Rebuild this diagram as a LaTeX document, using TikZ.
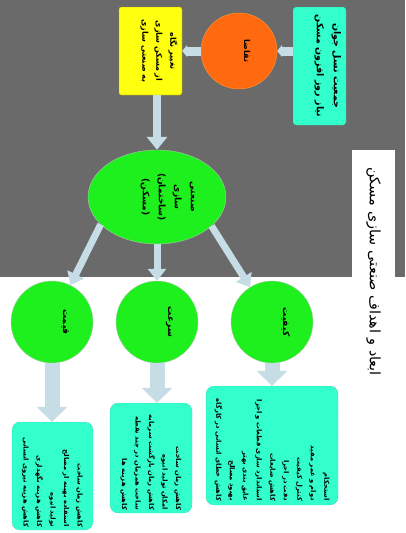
\documentclass[tikz,border=0pt]{standalone}
\usepackage{fontspec}
\usepackage{xcolor}
\usetikzlibrary{arrows.meta,shapes.geometric}

\newfontfamily\arabicfont[Script=Arabic]{DejaVu Sans}
\TeXXeTstate=1
\newcommand{\rl}[1]{\beginR #1\endR}

\definecolor{slidegray}{HTML}{6A6A6A}
\definecolor{aqua}{HTML}{33FFCC}
\definecolor{aquaedge}{HTML}{2A9A80}
\definecolor{lime}{HTML}{1EF01E}
\definecolor{limeedge}{HTML}{B0C8B0}
\definecolor{demandorange}{HTML}{FF6A10}
\definecolor{viewyellow}{HTML}{FFFF10}
\definecolor{viewedge}{HTML}{A89000}
\definecolor{arrowblue}{HTML}{C6DDE5}

\begin{document}
\begin{tikzpicture}[x=1pt, y=-1pt,
    infobox/.style={draw=aquaedge, densely dotted, fill=aqua, rounded corners=8pt,
      rotate=-90, align=right, inner ysep=2pt,
      font=\fontsize{6.8}{13.5}\selectfont\arabicfont\bfseries},
    goal/.style={draw=limeedge, fill=lime, circle, minimum size=82pt, inner sep=0pt,
      rotate=-90, text height=6pt, text depth=28pt,
      font=\fontsize{9}{12}\selectfont\arabicfont\bfseries},
    fatarrow/.style={arrowblue, line width=15pt, -{Triangle[length=15pt,width=30pt]}},
    midarrow/.style={arrowblue, line width=8pt, -{Triangle[length=13pt,width=20pt]}},
    slantarrow/.style={arrowblue, line width=7pt, -{Triangle[length=12pt,width=18pt]}},
    sidearrow/.style={arrowblue, line width=9pt, -{Triangle[length=5pt,width=12pt]}}]

    \useasboundingbox (0,0) rectangle (405,533);
    \fill[slidegray] (0,0) rectangle (405,277);

    % title
    \node (title) [fill=white, rotate=-90, minimum width=290pt, minimum height=43pt,
      text width=256pt, inner xsep=17pt, align=left,
      font=\fontsize{14.4}{18}\selectfont\arabicfont] at (373.5,295)
      {\rl{ابعاد و اهداف صنعتی سازی مسکن}};

    % top row
    \node (need) [draw=aquaedge, densely dotted, fill=aqua, rounded corners=3pt, rotate=-90,
      minimum width=118pt, minimum height=53pt, inner sep=2pt, align=center,
      text depth=19pt, font=\fontsize{9.5}{17}\selectfont\arabicfont\bfseries] at (319.5,66)
      {\rl{جمعیت نسل جوان}\\\rl{نیاز روز افزون مسکن}};
    \node (demand) [draw=orange!80, fill=demandorange, circle, minimum size=76pt, inner sep=0pt,
      rotate=-90, text height=6pt, text depth=16pt,
      font=\fontsize{8}{10}\selectfont\arabicfont\bfseries] at (239,51) {\rl{تقاضا}};
    \node (view) [draw=viewedge, fill=viewyellow, rounded corners=2pt, rotate=-90,
      minimum width=88pt, minimum height=63pt, inner sep=2pt, align=center,
      text depth=19pt, font=\fontsize{8}{14}\selectfont\arabicfont\bfseries] at (150.5,51)
      {\rl{تغییر نگاه}\\\rl{از مسکن سازی}\\\rl{به صنعتی سازی}};

    % center
    \node (ind) [draw=limeedge, fill=lime, ellipse, rotate=-90, minimum width=94pt,
      minimum height=138pt, inner sep=0pt, align=center, text depth=24pt,
      font=\fontsize{9}{16}\selectfont\arabicfont\bfseries] at (157,197)
      {\rl{صنعتی}\\\rl{سازی}\\\rl{(ساختمان)}\\\rl{(مسکن)}};

    % goals
    \node (quality) [goal] at (272,322) {\rl{کیفیت}};
    \node (speed) [goal] at (157,322) {\rl{سرعت}};
    \node (price) [goal] at (52,322) {\rl{قیمت}};

    \node (qualitybox) [infobox, minimum width=119pt, minimum height=132pt,
      text width=111pt, inner xsep=4pt] at (272,445.5)
      {\rl{استحکام}\\\rl{دوام و عمر مفید}\\\rl{کنترل کیفیت}\\\rl{دقت در اجرا}\\
       \rl{کاهش ضایعات}\\\rl{استاندارد سازی قطعات و اجزا}\\\rl{عایق بندی بهتر}\\
       \rl{بهبود مصالح}\\\rl{کاهش خطای انسانی در کارگاه}};
    \node (speedbox) [infobox, minimum width=110pt, minimum height=82pt,
      text width=104pt, inner xsep=3pt] at (151,458)
      {\rl{کاهش زمان ساخت}\\\rl{امکان تولید انبوه}\\\rl{کاهش زمان بازگشت سرمایه}\\
       \rl{ساخت همزمان در چند نقطه}\\\rl{کاهش هزینه ها}};
    \node (pricebox) [infobox, minimum width=108pt, minimum height=81pt,
      text width=102pt, inner xsep=3pt] at (52.5,476)
      {\rl{کاهش زمان ساخت}\\\rl{استفاده بهینه از مصالح}\\\rl{تولید انبوه}\\
       \rl{کاهش هزینه نگهداری}\\\rl{کاهش هزینه نیروی انسانی}};

    % arrows
    \draw[sidearrow] (need.south |- demand) -- (demand);
    \draw[sidearrow] (demand) -- (view);
    \draw[midarrow] (view.east -| ind) -- (ind);
    \draw[slantarrow] (ind.62) -- (quality);
    \draw[slantarrow] (ind) -- (speed);
    \draw[slantarrow] (ind.296) -- (price);
    \draw[fatarrow] (quality) -- (quality |- qualitybox.west);
    \draw[fatarrow] (speed) -- (speed |- speedbox.west);
    \draw[fatarrow] (price) -- (price |- pricebox.west);
\end{tikzpicture}
\end{document}
